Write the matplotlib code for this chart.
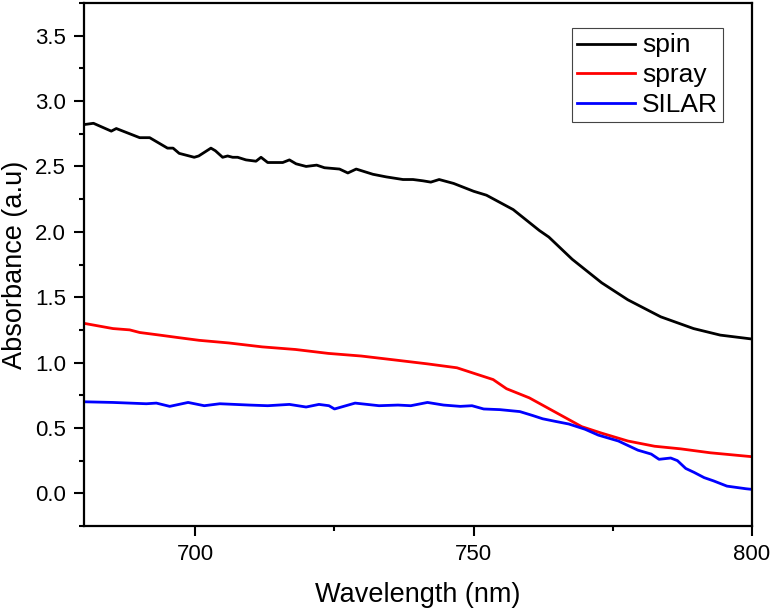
import matplotlib.pyplot as plt
from matplotlib.ticker import MultipleLocator

plt.rcParams['font.family'] = ['Liberation Sans', 'DejaVu Sans']

# spin coating (black)
spin_wl = [680, 681.7, 684.9, 685.8, 690, 691.8, 695, 696, 697.1, 699.8, 700.6,
           702.8, 703.6, 704.9, 705.8, 706.7, 707.6, 709.1, 710.9, 711.8, 713,
           715.7, 716.9, 718.1, 719.9, 721.8, 723.2, 725.9, 727.4, 728.9, 731.9,
           734.3, 737.3, 739.1, 740.9, 742.3, 743.8, 746.4, 750, 752.3, 757.1,
           761.8, 763.5, 767.7, 773, 777.7, 783.6, 789.5, 794.3, 800]
spin_abs = [2.82, 2.83, 2.77, 2.79, 2.72, 2.72, 2.64, 2.64, 2.60, 2.57, 2.58,
            2.64, 2.62, 2.57, 2.58, 2.57, 2.57, 2.55, 2.54, 2.57, 2.53,
            2.53, 2.55, 2.52, 2.50, 2.51, 2.49, 2.48, 2.45, 2.48, 2.44,
            2.42, 2.40, 2.40, 2.39, 2.38, 2.40, 2.37, 2.31, 2.28, 2.17,
            2.01, 1.96, 1.79, 1.61, 1.48, 1.35, 1.26, 1.21, 1.18]

# spray coating (red)
spray_wl = [680, 685.2, 688.2, 690, 693.6, 697.1, 700.7, 706, 712, 718, 723.9,
            729.8, 735.8, 741.7, 747, 750.6, 753.5, 755.9, 760, 764.7, 769.4,
            773, 777.7, 782.5, 787.2, 792.5, 800]
spray_abs = [1.30, 1.26, 1.25, 1.23, 1.21, 1.19, 1.17, 1.15, 1.12, 1.10, 1.07,
             1.05, 1.02, 0.99, 0.96, 0.91, 0.87, 0.80, 0.73, 0.62, 0.51,
             0.46, 0.40, 0.36, 0.34, 0.31, 0.28]

# SILAR (blue)
silar_wl = [680, 685.2, 691.2, 693, 695.4, 698.7, 701.6, 704.4, 709.7, 713,
            716.9, 719.9, 722.2, 724, 725, 728.7, 733, 736.4, 738.7, 741.7,
            744.6, 747.6, 749.7, 751.8, 754.7, 758.3, 760.6, 762.4, 764.7,
            767.1, 770, 772.4, 776, 779.5, 781.9, 783.3, 785.4, 786.6, 788.1,
            789.6, 791.4, 793.1, 795.5, 798.9, 800]
silar_abs = [0.70, 0.695, 0.685, 0.69, 0.665, 0.695, 0.67, 0.685, 0.675, 0.67,
             0.68, 0.66, 0.68, 0.67, 0.645, 0.69, 0.67, 0.675, 0.67, 0.695,
             0.675, 0.665, 0.67, 0.645, 0.64, 0.625, 0.595, 0.57, 0.55,
             0.53, 0.49, 0.445, 0.40, 0.33, 0.30, 0.26, 0.27, 0.25, 0.19,
             0.16, 0.12, 0.095, 0.055, 0.035, 0.03]

fig = plt.figure(figsize=(7.74, 6.11), dpi=100)
ax = fig.add_axes([84 / 774, 85 / 611, 668 / 774, 523 / 611])

ax.plot(spin_wl, spin_abs, color='black', lw=2.0, label='spin')
ax.plot(spray_wl, spray_abs, color='#ff0000', lw=2.0, label='spray')
ax.plot(silar_wl, silar_abs, color='#0000ff', lw=2.0, label='SILAR')

ax.set_xlim(680, 800)
ax.set_ylim(-0.25, 3.75)
ax.xaxis.set_major_locator(MultipleLocator(50))
ax.xaxis.set_minor_locator(MultipleLocator(25))
ax.yaxis.set_major_locator(MultipleLocator(0.5))
ax.yaxis.set_minor_locator(MultipleLocator(0.25))
ax.yaxis.set_major_formatter(plt.FormatStrFormatter('%.1f'))

for s in ax.spines.values():
    s.set_linewidth(1.6)
ax.tick_params(which='major', direction='out', length=7, width=1.5,
               labelsize=16, pad=6)
ax.tick_params(which='minor', direction='out', length=3.5, width=1.5)

ax.set_xlabel('Wavelength (nm)', fontsize=19.5, labelpad=12)
ax.set_ylabel('Absorbance (a.u)', fontsize=19.5, labelpad=5)

leg = ax.legend(loc='upper right', bbox_to_anchor=(0.957, 0.952),
                borderaxespad=0, fontsize=19, fancybox=False,
                edgecolor='#444444', framealpha=1, handlelength=2.2,
                handletextpad=0.25, borderpad=0.2, labelspacing=0.22,
                handleheight=0.6)
leg.get_frame().set_linewidth(0.8)

plt.savefig('out.png', dpi=100)
